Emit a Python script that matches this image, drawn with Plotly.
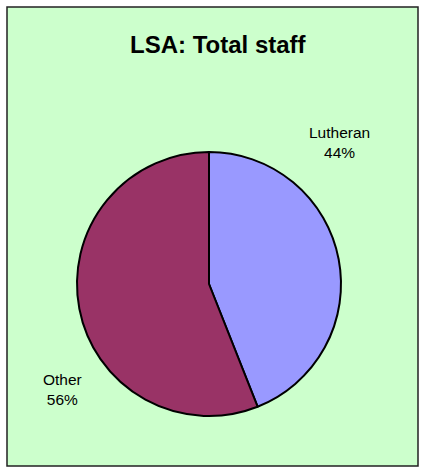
import plotly.graph_objects as go

W, H = 422, 473

title = "LSA: Total staff"
labels = ["Lutheran", "Other"]
values = [44, 56]
colors = ["#9999FF", "#993366"]

# label anchor positions in pixels (centre of the two-line text)
label_pos = [(339, 142), (63, 389)]

total = sum(values)

fig = go.Figure()

fig.add_trace(go.Pie(
    labels=labels,
    values=values,
    sort=False,
    direction="clockwise",
    rotation=0,
    textinfo="none",
    hoverinfo="label+percent",
    marker=dict(colors=colors, line=dict(color="black", width=2)),
    domain=dict(x=[77 / W, 341 / W], y=[(H - 416) / H, (H - 152) / H]),
    showlegend=False,
))

annotations = []
for lab, val, (px, py_) in zip(labels, values, label_pos):
    annotations.append(dict(
        x=px / W, y=1 - py_ / H, xref="paper", yref="paper",
        text=f"{lab}<br>{round(100 * val / total)}%",
        showarrow=False, xanchor="center", yanchor="middle",
        font=dict(family="Arial, Liberation Sans, sans-serif", size=15.5, color="black"),
        align="center",
    ))

annotations.append(dict(
    x=218 / W, y=1 - 45 / H, xref="paper", yref="paper",
    text=f"<b>{title}</b>",
    showarrow=False, xanchor="center", yanchor="middle",
    font=dict(family="Arial, Liberation Sans, sans-serif", size=24, color="black"),
))

fig.update_layout(
    width=W,
    height=H,
    margin=dict(l=0, r=0, t=0, b=0),
    paper_bgcolor="white",
    plot_bgcolor="white",
    annotations=annotations,
    shapes=[dict(
        type="rect", xref="paper", yref="paper",
        x0=7 / W, x1=418 / W, y0=1 - 466 / H, y1=1 - 7 / H,
        fillcolor="#CCFFCC", line=dict(color="#222222", width=1.5),
        layer="below",
    )],
)

# drop the browser's default body margin so the figure fills the window
fig.write_html(
    "out.html",
    config={"displayModeBar": False},
    post_script="document.body.style.margin='0';document.body.style.overflow='hidden';",
)
